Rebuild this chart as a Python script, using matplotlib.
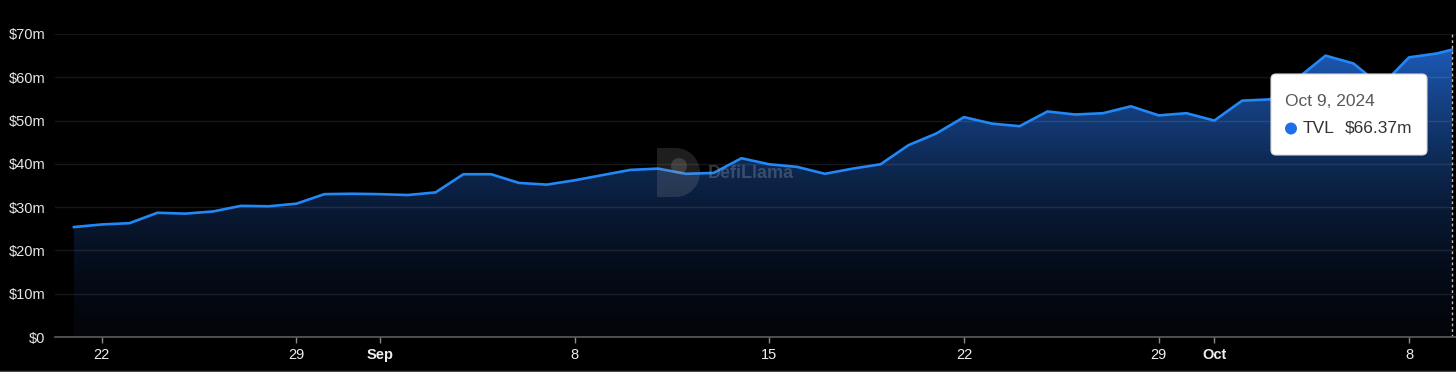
import numpy as np
import pandas as pd
import matplotlib
matplotlib.use('Agg')
import matplotlib.pyplot as plt
import matplotlib.dates as mdates
from matplotlib.patches import FancyBboxPatch, Circle, PathPatch
from matplotlib.path import Path
from matplotlib.lines import Line2D
from matplotlib.transforms import IdentityTransform

plt.rcParams['font.family'] = ['Liberation Sans', 'DejaVu Sans']

# Daily TVL (in $m), Aug 21 - Oct 9 2024, plus the latest intraday value
dates = list(pd.date_range('2024-08-21', '2024-10-09', freq='D')) + [pd.Timestamp('2024-10-09 13:00')]
tvl = [25.4, 26.0, 26.3, 28.7, 28.5, 29.0, 30.3, 30.2, 30.8, 33.0, 33.1,
       33.0, 32.8, 33.4, 37.6, 37.6, 35.6, 35.2, 36.2, 37.4, 38.6, 38.9,
       37.7, 37.9, 41.3, 39.9, 39.3, 37.7, 38.9, 39.9, 44.3, 47.0, 50.8,
       49.3, 48.7, 52.1, 51.4, 51.7, 53.3, 51.2, 51.7,
       50.0, 54.6, 54.9, 59.8, 65.0, 63.2, 58.0, 64.6, 65.5, 66.37]

tick_dates = ['2024-08-22', '2024-08-29', '2024-09-01', '2024-09-08', '2024-09-15',
              '2024-09-22', '2024-09-29', '2024-10-01', '2024-10-08']
tick_labels = ['22', '29', 'Sep', '8', '15', '22', '29', 'Oct', '8']
month_labels = ['Sep', 'Oct']

y_ticks = [0, 10, 20, 30, 40, 50, 60, 70]
y_labels = ['$0'] + [f'${v}m' for v in y_ticks[1:]]

tip_date = 'Oct 9, 2024'
tip_series = 'TVL'
tip_value = '$66.37m'

W, H = 1456, 372
fig = plt.figure(figsize=(W / 100, H / 100), dpi=100, facecolor='black')
ax = fig.add_axes([55 / W, 35 / H, 1 - 55 / W, 303 / H])
ax.set_facecolor('black')

x = mdates.date2num(dates)
y = np.array(tvl)
x0 = mdates.date2num(pd.Timestamp('2024-08-21'))
ax.set_xlim(x0 - 0.68, x0 + 49.69)
ax.set_ylim(0, 70)

# gradient area fill clipped to the area under the line
ny = 256
t = np.linspace(0, 1, ny) ** 1.7
base = np.array([3, 5, 11]) / 255
top = np.array([28, 90, 182]) / 255
grad = (base + (top - base) * t[:, None])[:, None, :]
im = ax.imshow(grad, origin='lower', aspect='auto', interpolation='bilinear',
               extent=[x[0], x[-1], 0, y.max()], zorder=2)
poly = ax.fill_between(x, y, 0, color='none', lw=0)
im.set_clip_path(poly.get_paths()[0], transform=ax.transData)

ax.set_yticks(y_ticks)
ax.set_yticklabels(y_labels)
ax.grid(axis='y', color='white', alpha=0.09, lw=1, zorder=3)
ax.set_axisbelow(False)

ax.plot(x, y, color='#2387f6', lw=1.9, solid_joinstyle='round', zorder=5)

# crosshair at the hovered point
ax.axvline(x[-1], color='#bdbdbd', ls=(0, (2, 2)), lw=1, zorder=6)

ax.set_xticks(mdates.date2num(pd.to_datetime(tick_dates)))
ax.set_xticklabels(tick_labels)
for lbl in ax.get_xticklabels():
    if lbl.get_text() in month_labels:
        lbl.set_fontweight('bold')

for s in ['top', 'right', 'left']:
    ax.spines[s].set_visible(False)
ax.spines['bottom'].set_color('#5c5c5c')
ax.spines['bottom'].set_linewidth(1.2)
ax.spines['bottom'].set_zorder(7)
ax.tick_params(axis='y', length=0, pad=7, labelsize=10.5, labelcolor='#e6e6e6')
ax.tick_params(axis='x', length=4, width=1, color='#8a8a8a', pad=4,
               labelsize=10.5, labelcolor='#eeeeee')

# watermark: "D" shaped logo plus name
r = 24.5
cx, cy = 700 - r, H - 172.5
arc = np.linspace(np.pi / 2, -np.pi / 2, 40)
verts = [(657, H - 148)] + [(cx + r * np.cos(a), cy + r * np.sin(a)) for a in arc] + [(657, H - 197), (657, H - 148)]
fig.add_artist(PathPatch(Path(verts), transform=IdentityTransform(), fc='#9a9a9a', ec='none',
                         alpha=0.2, zorder=8))
fig.add_artist(Circle((679, H - 166), 8, transform=IdentityTransform(), fc='#9a9a9a', ec='none',
                      alpha=0.25, zorder=8))
fig.text(708 / W, 1 - 173 / H, 'DefiLlama', fontweight='bold', fontsize=13,
         color='#8d98aa', alpha=0.35, va='center', zorder=8)

# tooltip
box = FancyBboxPatch((1271, H - 155), 156, 81, boxstyle='round,pad=0,rounding_size=5',
                     transform=IdentityTransform(), fc='white', ec='#d8d8d8', lw=0.8, zorder=10)
fig.add_artist(box)
fig.text(1285 / W, 1 - 101 / H, tip_date, fontsize=12.5, color='#595959', va='center', zorder=11)
fig.add_artist(Circle((1291, H - 128.5), 6, transform=IdentityTransform(), fc='#1f70e8', ec='none', zorder=11))
fig.text(1303 / W, 1 - 128.5 / H, tip_series, fontsize=12.5, color='#333333', va='center', zorder=11)
fig.text(1345 / W, 1 - 128.5 / H, tip_value, fontsize=12.5, color='#333333', va='center', zorder=11)

fig.add_artist(Line2D([0, 1], [1.5 / H, 1.5 / H], transform=fig.transFigure, color='#4a4a4a', lw=1))

fig.savefig('out.png', dpi=100, facecolor='black')
